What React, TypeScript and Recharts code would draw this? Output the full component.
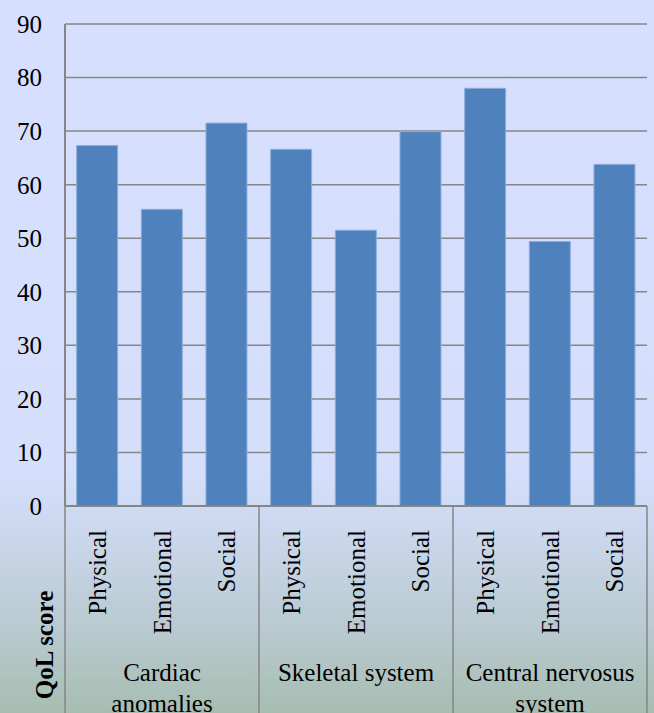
import React from "react";
import { BarChart, Bar, XAxis, YAxis, CartesianGrid } from "recharts";

const groups = ["Cardiac anomalies", "Skeletal system", "Central nervosus system"];
const groupLines: string[][] = [
  ["Cardiac", "anomalies"],
  ["Skeletal system"],
  ["Central nervosus", "system"],
];
const domains = ["Physical", "Emotional", "Social"];
const scores = [67.3, 55.4, 71.5, 66.6, 51.5, 69.9, 78.0, 49.4, 63.8];
const yTicks = [0, 10, 20, 30, 40, 50, 60, 70, 80, 90];

const data = scores.map((score, i) => ({
  key: `${groups[Math.floor(i / 3)]}-${domains[i % 3]}`,
  domain: domains[i % 3],
  group: Math.floor(i / 3),
  score,
}));

const W = 654;
const H = 713;
const M = { top: 24, right: 7, left: 0, bottom: 0 };
const Y_AXIS_W = 65;
const X_AXIS_H = 207;
const BAND = (W - M.left - M.right - Y_AXIS_W) / data.length;

const FONT = "'Liberation Serif', 'Times New Roman', serif";
const AXIS = "#868686";

// Custom tick: rotated domain label + group label under the middle bar + separators
function GroupTick(props: any) {
  const { x, y, payload } = props;
  const i = payload.index;
  const d = data[i];
  const ly = y + 24;
  return (
    <g>
      <text
        x={x}
        y={ly}
        transform={`rotate(-90, ${x}, ${ly})`}
        textAnchor="end"
        dominantBaseline="central"
        fontSize={25}
        fontFamily={FONT}
        fill="#000"
      >
        {d.domain}
      </text>
      {i % 3 === 1 && (
        <text x={x} y={y + 175} textAnchor="middle" fontSize={25} fontFamily={FONT} fill="#000">
          {groupLines[d.group].map((line, k) => (
            <tspan key={k} x={x} dy={k === 0 ? 0 : 31}>
              {line}
            </tspan>
          ))}
        </text>
      )}
      {i % 3 === 0 && (
        <line x1={x - BAND / 2} x2={x - BAND / 2} y1={y} y2={y + X_AXIS_H} stroke={AXIS} strokeWidth={1.5} />
      )}
      {i === data.length - 1 && (
        <line x1={x + BAND / 2} x2={x + BAND / 2} y1={y} y2={y + X_AXIS_H} stroke={AXIS} strokeWidth={1.5} />
      )}
    </g>
  );
}

export default function App() {
  return (
    <div
      style={{
        position: "absolute",
        left: 0,
        top: 0,
        width: W,
        height: H,
        overflow: "hidden",
        background:
          "linear-gradient(to bottom, #D6DFFE 0%, #D5DFFC 66%, #C9D6EA 76%, #B9CAD0 88%, #A7BDB1 100%)",
      }}
    >
      <BarChart width={W} height={H} data={data} margin={M} barCategoryGap="18%">
        <CartesianGrid vertical={false} stroke={AXIS} strokeWidth={1.5} />
        <XAxis
          dataKey="key"
          height={X_AXIS_H}
          interval={0}
          tick={<GroupTick />}
          tickLine={false}
          tickSize={0}
          tickMargin={0}
          axisLine={{ stroke: AXIS, strokeWidth: 2 }}
        />
        <YAxis
          width={Y_AXIS_W}
          domain={[0, 90]}
          ticks={yTicks}
          interval={0}
          tickLine={false}
          tickSize={0}
          tickMargin={23}
          axisLine={{ stroke: AXIS, strokeWidth: 2 }}
          tick={{ fontSize: 25, fontFamily: FONT, fill: "#000" }}
        />
        <Bar
          dataKey="score"
          fill="#4F81BD"
          stroke="#8DAEDB"
          strokeWidth={1}
          isAnimationActive={false}
        />
        <text
          x={44}
          y={645}
          transform="rotate(-90, 44, 645)"
          textAnchor="middle"
          dominantBaseline="central"
          fontSize={25}
          fontWeight="bold"
          fontFamily={FONT}
          fill="#000"
        >
          QoL score
        </text>
      </BarChart>
    </div>
  );
}
